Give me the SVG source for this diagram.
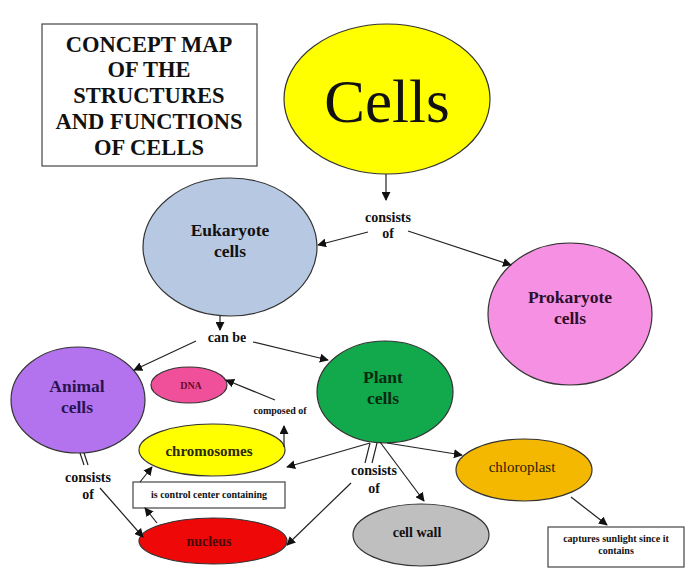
<svg xmlns="http://www.w3.org/2000/svg" width="700" height="586" viewBox="0 0 700 586" font-family="'Liberation Serif', 'Times New Roman', serif">
<defs>
<marker id="ah" viewBox="0 0 10 10" refX="9" refY="5" markerWidth="9" markerHeight="9" markerUnits="userSpaceOnUse" orient="auto">
<path d="M0,0 L10,5 L0,10 z" fill="#111"/>
</marker>
<style>
text{text-anchor:middle;font-weight:bold;fill:#111}
.node ellipse{stroke:#333;stroke-width:1.2}
.lbl{font-size:14px}
.big{font-size:17.5px}
.small{font-size:10px}
.ttl{font-size:22.5px}
.conn line{stroke:#222;stroke-width:1.2;fill:none}
.box{fill:#fff;stroke:#444;stroke-width:1.2}
</style>
</defs>
<rect width="700" height="586" fill="#fff"/>

<g id="title">
<rect class="box" x="42" y="24" width="215" height="142"/>
<text class="ttl" x="149" y="52">CONCEPT MAP</text>
<text class="ttl" x="149" y="77">OF THE</text>
<text class="ttl" x="149" y="103">STRUCTURES</text>
<text class="ttl" x="149" y="129">AND FUNCTIONS</text>
<text class="ttl" x="149" y="155">OF CELLS</text>
</g>

<g id="cells" class="node">
<ellipse cx="387" cy="99" rx="103" ry="75" fill="#ffff00" stroke="#55550a"/>
<text x="387" y="122" font-size="61" style="font-weight:normal">Cells</text>
</g>

<g id="eukaryote" class="node">
<ellipse cx="230" cy="247" rx="87" ry="69" fill="#b7c9e2"/>
<text class="big" x="230" y="236">Eukaryote</text>
<text class="big" x="230" y="257">cells</text>
</g>

<g id="prokaryote" class="node">
<ellipse cx="570" cy="314" rx="82" ry="71" fill="#f590e2" stroke="#5a2a55"/>
<text class="big" x="570" y="303" style="fill:#2b0f2b">Prokaryote</text>
<text class="big" x="570" y="324" style="fill:#2b0f2b">cells</text>
</g>

<g id="animal" class="node">
<ellipse cx="78" cy="400" rx="67" ry="53" fill="#b473ee" stroke="#4a2a66"/>
<text class="big" x="77" y="392" style="fill:#2a1450">Animal</text>
<text class="big" x="77" y="413" style="fill:#2a1450">cells</text>
</g>

<g id="plant" class="node">
<ellipse cx="385" cy="392" rx="68" ry="51" fill="#12a84c" stroke="#1a4a22"/>
<text class="big" x="383" y="383" style="fill:#0a2a10">Plant</text>
<text class="big" x="383" y="404" style="fill:#0a2a10">cells</text>
</g>

<g id="dna" class="node">
<ellipse cx="189" cy="385" rx="38" ry="18" fill="#f0509a" stroke="#6a1a3a"/>
<text x="191" y="389" font-size="10" style="fill:#6a0a2a">DNA</text>
</g>

<g id="chromosomes" class="node">
<ellipse cx="212" cy="450" rx="73" ry="26" fill="#ffff00" stroke="#55550a"/>
<text x="209" y="456" font-size="15" style="fill:#2a2a0a">chromosomes</text>
</g>

<g id="nucleus" class="node">
<ellipse cx="213" cy="541" rx="74" ry="23" fill="#ee0808" stroke="#6a0a0a"/>
<text class="lbl" x="209" y="546" style="fill:#4a0a0a">nucleus</text>
</g>

<g id="chloroplast" class="node">
<ellipse cx="524" cy="470" rx="68" ry="31" fill="#f5b800" stroke="#5a4a0a"/>
<text x="522" y="472" font-size="15" style="font-weight:normal;fill:#2a2000">chloroplast</text>
</g>

<g id="cellwall" class="node">
<ellipse cx="421" cy="535" rx="68" ry="31" fill="#bfbfbf" stroke="#444"/>
<text class="lbl" x="417" y="537">cell wall</text>
</g>

<g id="controlbox">
<rect class="box" x="133" y="482" width="152" height="26"/>
<text class="small" x="209" y="498">is control center containing</text>
</g>

<g id="sunlightbox">
<rect class="box" x="548" y="527" width="136" height="40"/>
<text class="small" x="616" y="542">captures sunlight since it</text>
<text class="small" x="616" y="554">contains</text>
</g>

<g id="labels">
<text class="lbl" x="388" y="222">consists</text>
<text class="lbl" x="388" y="238">of</text>
<text class="lbl" x="227" y="342">can be</text>
<text x="280" y="414" font-size="10">composed of</text>
<text class="lbl" x="88" y="482">consists</text>
<text class="lbl" x="88" y="499">of</text>
<text class="lbl" x="374" y="475">consists</text>
<text class="lbl" x="374" y="493">of</text>
</g>

<g id="connectors" class="conn">
<line x1="386" y1="174" x2="386" y2="200" marker-end="url(#ah)"/>
<line x1="368" y1="232" x2="318" y2="245" marker-end="url(#ah)"/>
<line x1="408" y1="231" x2="511" y2="265" marker-end="url(#ah)"/>
<line x1="220" y1="316" x2="220" y2="330" marker-end="url(#ah)"/>
<line x1="196" y1="341" x2="134" y2="370" marker-end="url(#ah)"/>
<line x1="253" y1="342" x2="328" y2="360" marker-end="url(#ah)"/>
<line x1="275" y1="400" x2="226" y2="380" marker-end="url(#ah)"/>
<line x1="284" y1="447" x2="284" y2="426" marker-end="url(#ah)"/>
<line x1="140" y1="482" x2="152" y2="467" marker-end="url(#ah)"/>
<line x1="157" y1="523" x2="145" y2="508" marker-end="url(#ah)"/>
<line x1="80" y1="453" x2="84" y2="465"/>
<line x1="84" y1="453" x2="88" y2="465"/>
<line x1="100" y1="488" x2="143" y2="537" marker-end="url(#ah)"/>
<line x1="370" y1="443" x2="287" y2="467" marker-end="url(#ah)"/>
<line x1="370" y1="443" x2="365" y2="463"/>
<line x1="377" y1="443" x2="372" y2="463"/>
<line x1="380" y1="442" x2="424" y2="501" marker-end="url(#ah)"/>
<line x1="387" y1="443" x2="462" y2="455" marker-end="url(#ah)"/>
<line x1="351" y1="483" x2="287" y2="545" marker-end="url(#ah)"/>
<line x1="571" y1="497" x2="607" y2="525" marker-end="url(#ah)"/>
</g>
</svg>
